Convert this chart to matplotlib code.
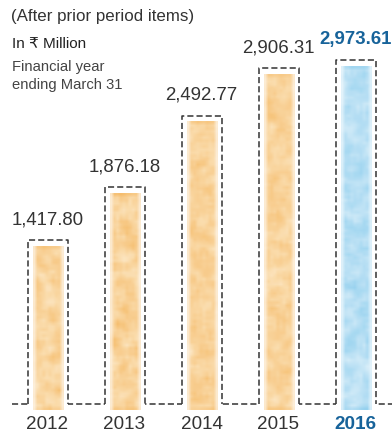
import matplotlib
matplotlib.use("Agg")
import matplotlib.pyplot as plt
import numpy as np

# Profit after tax, Rs. million, financial year ending March 31
years = ["2012", "2013", "2014", "2015", "2016"]
values = [1417.80, 1876.18, 2492.77, 2906.31, 2973.61]
value_labels = ["1,417.80", "1,876.18", "2,492.77", "2,906.31", "2,973.61"]

W, H, DPI = 392, 438, 100
PITCH = 77.0          # px between bar centres
X0_PX = 47.5          # px position of first bar centre
BASE_PX = 34.0        # baseline height above bottom, px
PX_PER_UNIT = 0.1156  # vertical scale

ORANGE = (np.array([245, 184, 98]), np.array([252, 228, 188]))
BLUE = (np.array([140, 205, 238]), np.array([214, 237, 249]))
DARK = "#333333"
HIGHLIGHT = "#17639a"
SANS = ["Liberation Sans", "DejaVu Sans"]


def smooth(a, k):
    kern = np.ones(k) / k
    a = np.apply_along_axis(lambda r: np.convolve(r, kern, mode="same"), 0, a)
    a = np.apply_along_axis(lambda r: np.convolve(r, kern, mode="same"), 1, a)
    return a


def paint_fill(ax, x0, x1, y0, y1, colors, seed):
    """Watercolour-like fill drawn as a small image inside the bar."""
    base, light = colors
    h_px = (y1 - y0) * PX_PER_UNIT
    h, w = max(int(h_px / 3), 8), 10
    rng = np.random.default_rng(seed)
    t = smooth(rng.random((h, w)), 3)
    t = (t - t.min()) / (t.max() - t.min())
    rgb = (base[None, None, :] * (1 - t[..., None]) + light[None, None, :] * t[..., None]) / 255
    alpha = np.ones((h, w)) * 0.95
    edge = np.minimum(np.arange(w), np.arange(w)[::-1])
    alpha *= np.clip(edge + 0.4, 0, 1)[None, :]
    rgba = np.dstack([rgb, alpha])
    ax.imshow(rgba, extent=(x0, x1, y0, y1), aspect="auto",
              interpolation="bilinear", zorder=3, origin="upper")


fig = plt.figure(figsize=(W / DPI, H / DPI), dpi=DPI)
ax = fig.add_axes([0, 0, 1, 1])
ax.axis("off")

xs = np.arange(len(years))
box_w = 40 / PITCH
fill_w = 31 / PITCH
top_inset = 6 / PX_PER_UNIT
below = 6 / PX_PER_UNIT

# dashed baseline, hidden inside each box by a white bar
ax.plot([(12 - X0_PX) / PITCH, (W - X0_PX) / PITCH], [0, 0],
        ls=(0, (4, 2)), lw=1.1, color=DARK, zorder=1)
ax.bar(xs, [v + 3 / PX_PER_UNIT for v in values], width=box_w,
       bottom=-3 / PX_PER_UNIT, color="white", zorder=2)

for i, (x, v) in enumerate(zip(xs, values)):
    last = i == len(years) - 1
    colors = BLUE if last else ORANGE
    paint_fill(ax, x - fill_w / 2 + 1 / PITCH, x + fill_w / 2 + 1 / PITCH,
               -below, v - top_inset, colors, seed=11 + i)
    # three-sided dashed box
    l, r = x - box_w / 2, x + box_w / 2
    ax.plot([l, l, r, r], [0, v, v, 0], ls=(0, (4, 2)), lw=1.1,
            color=DARK, zorder=4, solid_joinstyle="miter")

    ax.annotate(value_labels[i], (x, v), xytext=(0, 12), textcoords="offset pixels",
                ha="center", va="bottom", fontsize=13.4,
                family=SANS, color=HIGHLIGHT if last else DARK,
                fontweight="bold" if last else "normal", zorder=5)
    ax.annotate(years[i], (x, 0), xytext=(0, -12), textcoords="offset pixels",
                ha="center", va="top", fontsize=13.6, family=SANS,
                color=HIGHLIGHT if last else DARK,
                fontweight="bold" if last else "normal")

ax.set_xlim(-X0_PX / PITCH, (W - X0_PX) / PITCH)
ax.set_ylim(-BASE_PX / PX_PER_UNIT, (H - BASE_PX) / PX_PER_UNIT)


def px_text(x, y, s, **kw):
    fig.text(x / W, 1 - y / H, s, va="baseline", ha="left", **kw)


px_text(11, 21, "(After prior period items)", fontsize=12.2, family=SANS, color=DARK)
px_text(12, 48, "In \u20b9 Million", fontsize=11, family=SANS, color="#222222")
px_text(12, 71, "Financial year", fontsize=10.6, family=SANS, color="#444444")
px_text(12, 89, "ending March 31", fontsize=10.6, family=SANS, color="#444444")

fig.savefig("out.png", dpi=DPI)
